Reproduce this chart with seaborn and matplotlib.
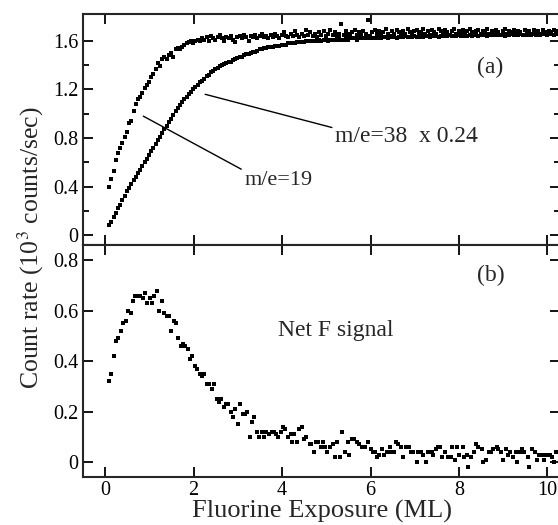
import numpy as np
import pandas as pd
import matplotlib
matplotlib.use("Agg")
import matplotlib.pyplot as plt
import seaborn as sns

# exposure grid shared by both top-panel traces (ML)
x_top = [
    0.09, 0.14, 0.19, 0.24, 0.29, 0.34, 0.39, 0.44, 0.49, 0.54,
    0.59, 0.64, 0.69, 0.74, 0.79, 0.84, 0.89, 0.94, 0.99, 1.04,
    1.09, 1.14, 1.19, 1.24, 1.29, 1.34, 1.39, 1.44, 1.49, 1.54,
    1.59, 1.64, 1.69, 1.74, 1.79, 1.84, 1.89, 1.94, 1.99, 2.04,
    2.09, 2.14, 2.19, 2.24, 2.29, 2.34, 2.39, 2.44, 2.49, 2.54,
    2.59, 2.64, 2.69, 2.74, 2.79, 2.84, 2.89, 2.94, 2.99, 3.04,
    3.09, 3.14, 3.19, 3.24, 3.29, 3.34, 3.39, 3.44, 3.49, 3.54,
    3.59, 3.64, 3.69, 3.74, 3.79, 3.84, 3.89, 3.94, 3.99, 4.04,
    4.09, 4.14, 4.19, 4.24, 4.29, 4.34, 4.39, 4.44, 4.49, 4.54,
    4.59, 4.64, 4.69, 4.74, 4.79, 4.84, 4.89, 4.94, 4.99, 5.04,
    5.09, 5.14, 5.19, 5.24, 5.29, 5.34, 5.39, 5.44, 5.49, 5.54,
    5.59, 5.64, 5.69, 5.74, 5.79, 5.84, 5.89, 5.94, 5.99, 6.04,
    6.09, 6.14, 6.19, 6.24, 6.29, 6.34, 6.39, 6.44, 6.49, 6.54,
    6.59, 6.64, 6.69, 6.74, 6.79, 6.84, 6.89, 6.94, 6.99, 7.04,
    7.09, 7.14, 7.19, 7.24, 7.29, 7.34, 7.39, 7.44, 7.49, 7.54,
    7.59, 7.64, 7.69, 7.74, 7.79, 7.84, 7.89, 7.94, 7.99, 8.04,
    8.09, 8.14, 8.19, 8.24, 8.29, 8.34, 8.39, 8.44, 8.49, 8.54,
    8.59, 8.64, 8.69, 8.74, 8.79, 8.84, 8.89, 8.94, 8.99, 9.04,
    9.09, 9.14, 9.19, 9.24, 9.29, 9.34, 9.39, 9.44, 9.49, 9.54,
    9.59, 9.64, 9.69, 9.74, 9.79, 9.84, 9.89, 9.94, 9.99, 10.04,
    10.09, 10.14, 10.19, 10.24,
]

# m/e=19 count rate (10^3 counts/sec)
me19 = [
    0.40, 0.46, 0.53, 0.62, 0.68, 0.72, 0.76, 0.81, 0.85, 0.92,
    0.94, 1.02, 1.08, 1.12, 1.14, 1.17, 1.21, 1.24, 1.26, 1.30,
    1.33, 1.37, 1.42, 1.39, 1.45, 1.47, 1.45, 1.48, 1.50, 1.47,
    1.53, 1.54, 1.53, 1.55, 1.57, 1.58, 1.59, 1.60, 1.58, 1.60,
    1.61, 1.60, 1.62,
    1.61, 1.63, 1.60, 1.64, 1.62, 1.61, 1.63, 1.65, 1.62, 1.60,
    1.63, 1.62, 1.64, 1.61, 1.59, 1.63, 1.64, 1.62, 1.65, 1.63,
    1.60, 1.64, 1.63, 1.65, 1.62, 1.64, 1.66, 1.63, 1.64, 1.62,
    1.65, 1.63, 1.66, 1.64, 1.62, 1.65, 1.67, 1.64, 1.63, 1.66,
    1.64, 1.68, 1.65, 1.63, 1.66, 1.64, 1.69, 1.65, 1.67, 1.64,
    1.66, 1.63, 1.67, 1.65, 1.68, 1.64, 1.66, 1.69, 1.65, 1.67,
    1.64, 1.66, 1.74, 1.65, 1.68, 1.66, 1.64, 1.67, 1.69, 1.65,
    1.67, 1.65, 1.68, 1.66, 1.77, 1.64, 1.67, 1.69, 1.66, 1.68,
    1.65, 1.67, 1.70, 1.66, 1.64, 1.68, 1.66, 1.69, 1.67, 1.65,
    1.68, 1.66, 1.70, 1.67, 1.65, 1.68, 1.69, 1.66, 1.67, 1.70,
    1.66, 1.68, 1.65, 1.69, 1.67, 1.66, 1.70, 1.68, 1.66, 1.69,
    1.67, 1.65, 1.68, 1.70, 1.66, 1.68, 1.67, 1.69, 1.66, 1.68,
    1.70, 1.67, 1.65, 1.68, 1.69, 1.66, 1.68, 1.67, 1.70, 1.66,
    1.68, 1.66, 1.69, 1.67, 1.65, 1.68, 1.70, 1.66, 1.68, 1.67,
    1.69, 1.66, 1.68, 1.67, 1.65, 1.69, 1.67, 1.68, 1.66, 1.69,
    1.67, 1.68, 1.66, 1.69, 1.67, 1.65, 1.68, 1.67, 1.69, 1.66,
    1.68,
]

# m/e=38 count rate scaled by 0.24
me38 = [
    0.08, 0.11, 0.15, 0.18, 0.22, 0.25, 0.29, 0.32, 0.36, 0.39,
    0.42, 0.45, 0.48, 0.51, 0.54, 0.57, 0.60, 0.63, 0.66, 0.69,
    0.72, 0.75, 0.78, 0.81, 0.84, 0.87, 0.90, 0.93, 0.96, 0.99,
    1.02, 1.05, 1.07, 1.10, 1.12, 1.14, 1.16, 1.18, 1.20, 1.22,
    1.24, 1.26, 1.27, 1.29, 1.31, 1.32, 1.34, 1.35, 1.37, 1.38,
    1.39, 1.40, 1.41, 1.42, 1.43, 1.43, 1.44, 1.45, 1.46, 1.47,
    1.47, 1.48, 1.49, 1.49, 1.50, 1.51, 1.51, 1.52, 1.53, 1.53,
    1.54, 1.54, 1.55, 1.55, 1.55, 1.56, 1.56, 1.56, 1.57, 1.57,
    1.57, 1.58, 1.58, 1.58, 1.58, 1.59, 1.59, 1.59, 1.59, 1.60,
    1.60,
    1.60, 1.60, 1.60, 1.60, 1.61, 1.60, 1.61, 1.61, 1.60, 1.61,
    1.61, 1.61, 1.61, 1.62, 1.61, 1.61, 1.62, 1.61, 1.62, 1.62,
    1.62, 1.61, 1.62, 1.62, 1.62, 1.62, 1.63, 1.62, 1.62, 1.62,
    1.63, 1.62, 1.62, 1.63, 1.63, 1.62, 1.63, 1.63, 1.63, 1.62,
    1.63, 1.63, 1.63, 1.64, 1.63, 1.63, 1.63, 1.64, 1.63, 1.63,
    1.64, 1.63, 1.64, 1.64, 1.63, 1.64, 1.64, 1.64, 1.63, 1.64,
    1.64, 1.64, 1.64, 1.65, 1.64, 1.64, 1.64, 1.65, 1.64, 1.64,
    1.65, 1.64, 1.65, 1.64, 1.65, 1.65, 1.64, 1.65, 1.65, 1.65,
    1.64, 1.65, 1.65, 1.65, 1.66, 1.65, 1.65, 1.65, 1.64, 1.65,
    1.65, 1.66, 1.65, 1.65, 1.65, 1.66, 1.65, 1.65, 1.66, 1.65,
    1.65, 1.66, 1.65, 1.66, 1.65, 1.66, 1.66, 1.65, 1.66, 1.66,
    1.65, 1.66, 1.66,
]

# net F signal (bottom panel)
x_net = [
    0.09, 0.14, 0.20, 0.25, 0.29, 0.36, 0.41, 0.48, 0.52, 0.59,
    0.63, 0.68, 0.75, 0.79, 0.86, 0.90, 0.95, 1.02, 1.06, 1.11,
    1.18, 1.22, 1.29, 1.33, 1.40, 1.45, 1.49, 1.56, 1.61, 1.65,
    1.72, 1.76, 1.81, 1.88, 1.92, 1.97, 2.04, 2.08, 2.15, 2.19,
    2.24, 2.31, 2.35, 2.42, 2.47, 2.53, 2.58, 2.62, 2.69, 2.74,
    2.78, 2.85, 2.90, 2.94, 3.01, 3.05, 3.12, 3.17, 3.21, 3.28,
    3.33, 3.37, 3.44, 3.48, 3.55, 3.60, 3.64, 3.71, 3.76, 3.82,
    3.87, 3.91, 3.98, 4.03, 4.07, 4.14, 4.19, 4.23, 4.28, 4.34,
    4.39, 4.46, 4.50, 4.55, 4.62, 4.66, 4.73, 4.77, 4.82, 4.89,
    4.93, 4.98, 5.02, 5.09, 5.16, 5.20, 5.25, 5.32, 5.36, 5.43,
    5.48, 5.52, 5.57, 5.63, 5.70, 5.75, 5.81, 5.88, 5.95, 6.00,
    6.06, 6.11, 6.15, 6.20, 6.27, 6.31, 6.38, 6.43, 6.47, 6.52,
    6.58, 6.63, 6.70, 6.74, 6.81, 6.86, 6.92, 6.97, 7.04, 7.08,
    7.15, 7.19, 7.26, 7.31, 7.38, 7.42, 7.49, 7.53, 7.58, 7.62,
    7.69, 7.76, 7.81, 7.85, 7.90, 7.96, 8.01, 8.08, 8.12, 8.19,
    8.21, 8.28, 8.35, 8.39, 8.44, 8.51, 8.55, 8.62, 8.67, 8.73,
    8.78, 8.85, 8.89, 8.96, 9.00, 9.07, 9.12, 9.16, 9.23, 9.28,
    9.32, 9.39, 9.43, 9.48, 9.55, 9.59, 9.66, 9.71, 9.77, 9.82,
    9.89, 9.93, 10.00, 10.05, 10.11, 10.16, 10.20,
]
net_f = [
    0.32, 0.35, 0.42, 0.48, 0.49, 0.52, 0.55, 0.56, 0.60, 0.59,
    0.64, 0.66, 0.66, 0.66, 0.65, 0.67, 0.63, 0.65, 0.63, 0.66,
    0.68, 0.60, 0.64, 0.59, 0.58, 0.58, 0.52, 0.56, 0.55, 0.49,
    0.46, 0.47, 0.46, 0.45, 0.41, 0.42, 0.38, 0.37, 0.35, 0.34,
    0.35, 0.31, 0.31, 0.29, 0.31, 0.25, 0.24, 0.25, 0.22, 0.23,
    0.23, 0.20, 0.18, 0.21, 0.15, 0.23, 0.19, 0.19, 0.20, 0.10,
    0.16, 0.18, 0.12, 0.10, 0.12, 0.10, 0.12, 0.11, 0.12, 0.12,
    0.11, 0.10, 0.12, 0.14, 0.13, 0.10, 0.11, 0.08, 0.11, 0.08,
    0.13, 0.14, 0.09, 0.10, 0.07, 0.07, 0.04, 0.08, 0.08, 0.06,
    0.08, 0.06, 0.04, 0.06, 0.07, 0.02, 0.08, 0.02, 0.12, 0.04,
    0.08, 0.03, 0.09, 0.09, 0.08, 0.07, 0.06, 0.06, 0.08, 0.05,
    0.04, 0.04, 0.02, 0.03, 0.05, 0.03, 0.04, 0.06, 0.04, 0.04,
    0.08, 0.07, 0.06, 0.02, 0.06, 0.06, 0.04, 0.04, 0.00, 0.04,
    0.04, 0.03, 0.00, 0.04, 0.04, 0.03, 0.05, 0.06, 0.06, 0.02,
    0.04, 0.02, 0.02, 0.06, 0.01, 0.06, 0.03, 0.06, 0.02, 0.03,
    -0.02, 0.02, 0.04, 0.07, 0.06, 0.05, 0.00, 0.01, 0.04, 0.04,
    0.05, 0.06, 0.05, 0.04, 0.01, 0.05, 0.03, 0.04, 0.02, 0.04,
    0.00, 0.04, 0.05, 0.04, 0.02, -0.02, 0.05, 0.04, 0.01, 0.03,
    0.03, 0.01, 0.03, 0.03, 0.02, 0.00, 0.04,
]

top_df = pd.DataFrame({"x": x_top * 2, "rate": me19 + me38,
                       "mass": ["19"] * len(x_top) + ["38"] * len(x_top)})
net_df = pd.DataFrame({"x": x_net, "rate": net_f})

sns.set_style("ticks")
plt.rcParams["font.family"] = ["Liberation Serif", "DejaVu Serif"]
plt.rcParams["mathtext.fontset"] = "stix"

fig = plt.figure(figsize=(5.58, 5.25), dpi=100)
ax1 = fig.add_axes([0.149, 0.533, 0.855, 0.440])
ax2 = fig.add_axes([0.149, 0.091, 0.855, 0.442])

sns.scatterplot(data=top_df, x="x", y="rate", ax=ax1, marker="s", s=6,
                color="black", linewidth=0, legend=False)
sns.scatterplot(data=net_df, x="x", y="rate", ax=ax2, marker="s", s=8,
                color="black", linewidth=0, legend=False)

for ax in (ax1, ax2):
    ax.set_xlim(-0.5, 10.29)
    ax.set_xticks([0, 2, 4, 6, 8, 10])
    ax.set_xlabel("")
    ax.set_ylabel("")
    for sp in ax.spines.values():
        sp.set_visible(True)
        sp.set_linewidth(1.5)
    ax.tick_params(which="both", direction="in", top=True, right=True,
                   width=1.3, labelsize=14.5, colors="black")
    ax.tick_params(which="major", length=7)
    ax.tick_params(which="minor", length=4)

ax1.set_ylim(-0.083, 1.82)
ax1.set_yticks([0, 0.4, 0.8, 1.2, 1.6])
ax1.set_yticklabels(["0", "0.4", "0.8", "1.2", "1.6"])
ax1.set_yticks([0.2, 0.6, 1.0, 1.4], minor=True)
ax1.tick_params(axis="x", labelbottom=False)

ax2.set_ylim(-0.06, 0.86)
ax2.set_yticks([0, 0.2, 0.4, 0.6, 0.8])
ax2.set_yticklabels(["0", "0.2", "0.4", "0.6", "0.8"])
ax2.set_xticklabels(["0", "2", "4", "6", "8", "10"])
ax2.tick_params(axis="x", pad=2.5)
ax2.set_xlabel("Fluorine Exposure (ML)", fontsize=19, labelpad=0)

fig.text(0.055, 0.528, "Count rate (10$^3$ counts/sec)", rotation=90,
         ha="center", va="center", fontsize=18.5)

# panel annotations
ax1.text(8.71, 1.38, "(a)", fontsize=17, ha="center", va="center")
ax2.text(8.71, 0.74, "(b)", fontsize=17, ha="center", va="center")
ax2.text(3.9, 0.52, "Net F signal", fontsize=17, ha="left", va="center")
ax1.annotate("m/e=19", xy=(0.86, 0.98), xytext=(3.15, 0.45),
             fontsize=16, ha="left", va="center",
             arrowprops=dict(arrowstyle="-", color="black", lw=1,
                             shrinkA=0, shrinkB=0, relpos=(0, 1)))
ax1.annotate("m/e=38  x 0.24", xy=(2.26, 1.16), xytext=(5.2, 0.81),
             fontsize=17, ha="left", va="center",
             arrowprops=dict(arrowstyle="-", color="black", lw=1,
                             shrinkA=0, shrinkB=0, relpos=(0, 0.9)))

fig.savefig("out.png", dpi=100)
